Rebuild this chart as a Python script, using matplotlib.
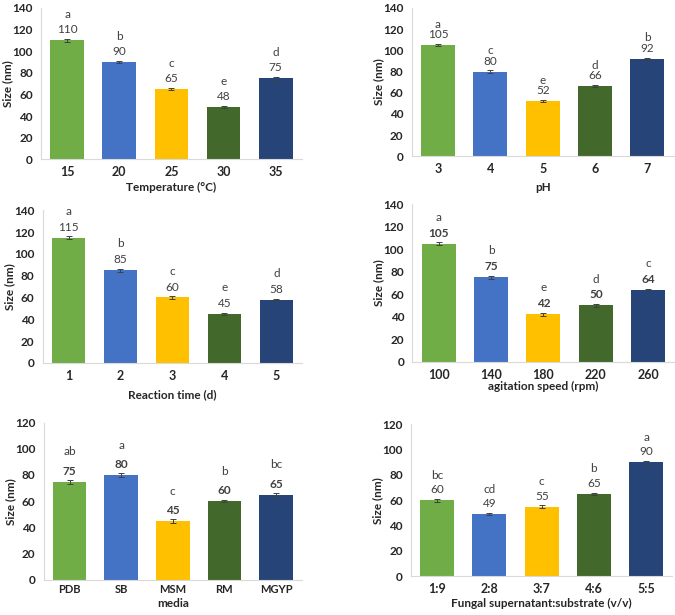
import matplotlib
matplotlib.use("Agg")
import matplotlib.pyplot as plt

plt.rcParams['font.family'] = ['Lato', 'DejaVu Sans']

colors = ['#70AD47', '#4472C4', '#FFC000', '#43682B', '#264478']

# panel data
temp_cats = ['15', '20', '25', '30', '35']
temp_vals = [110, 90, 65, 48, 75]
temp_err = [1.5, 1.0, 1.0, 1.0, 1.5]
temp_letters = ['a', 'b', 'c', 'e', 'd']

ph_cats = ['3', '4', '5', '6', '7']
ph_vals = [105, 80, 52, 66, 92]
ph_err = [1.0, 1.0, 1.0, 1.0, 1.0]
ph_letters = ['a', 'c', 'e', 'd', 'b']

time_cats = ['1', '2', '3', '4', '5']
time_vals = [115, 85, 60, 45, 58]
time_err = [1.0, 1.5, 1.5, 0.8, 1.0]
time_letters = ['a', 'b', 'c', 'e', 'd']

speed_cats = ['100', '140', '180', '220', '260']
speed_vals = [105, 75, 42, 50, 64]
speed_err = [1.2, 1.5, 1.2, 1.2, 1.0]
speed_letters = ['a', 'b', 'e', 'd', 'c']

media_cats = ['PDB', 'SB', 'MSM', 'RM', 'MGYP']
media_vals = [75, 80, 45, 60, 65]
media_err = [1.5, 1.2, 1.5, 0.8, 1.2]
media_letters = ['ab', 'a', 'c', 'b', 'bc']

ratio_cats = ['1:9', '2:8', '3:7', '4:6', '5:5']
ratio_vals = [60, 49, 55, 65, 90]
ratio_err = [1.2, 1.0, 1.0, 1.0, 1.0]
ratio_letters = ['bc', 'cd', 'c', 'b', 'a']

panels = [
    # rect, cats, vals, err, letters, xlabel, ymax, letter offset(pt), label bold, xlabel pad, tick size, x pad
    ([0.061, 0.741, 0.386, 0.246], temp_cats, temp_vals, temp_err, temp_letters,
     'Temperature (°C)', 140, 18.5, False, 3, 9, 5),
    ([0.610, 0.746, 0.388, 0.241], ph_cats, ph_vals, ph_err, ph_letters,
     'pH', 140, 15, False, 5, 9, 5),
    ([0.063, 0.410, 0.385, 0.248], time_cats, time_vals, time_err, time_letters,
     'Reaction time (d)', 140, 19, False, 5, 9, 5),
    ([0.611, 0.412, 0.388, 0.256], speed_cats, speed_vals, speed_err, speed_letters,
     'agitation speed (rpm)', 140, 19, True, 0, 9, 5),
    ([0.065, 0.057, 0.382, 0.256], media_cats, media_vals, media_err, media_letters,
     'media', 120, 21.5, True, 2, 8, 3),
    ([0.609, 0.063, 0.387, 0.247], ratio_cats, ratio_vals, ratio_err, ratio_letters,
     'Fungal supernatant:substrate (v/v)', 120, 18, False, 2, 9, 5),
]

fig = plt.figure(figsize=(6.75, 6.15), dpi=100)

for rect, cats, vals, err, letters, xlabel, ymax, loff, bold, lpad, tsize, xpad in panels:
    ax = fig.add_axes(rect)
    x = list(range(len(cats)))
    ax.bar(x, vals, width=0.65, color=colors, zorder=2)
    ax.errorbar(x, vals, yerr=err, fmt='none', ecolor='#404040',
                elinewidth=0.7, capsize=2, capthick=0.7, zorder=3)
    for xi, v, lt in zip(x, vals, letters):
        ax.annotate(str(v), (xi, v), xytext=(0, 7.5), textcoords='offset points',
                    ha='center', va='center', fontsize=8.5, color='#404040',
                    fontweight='bold' if bold else 'normal')
        ax.annotate(lt, (xi, v), xytext=(0, loff), textcoords='offset points',
                    ha='center', va='center', fontsize=8.5, color='#404040')
    ax.set_xlim(-0.5, len(cats) - 0.5)
    ax.set_ylim(0, ymax)
    ax.set_yticks(range(0, ymax + 1, 20))
    ax.set_xticks(x)
    ax.set_xticklabels(cats)
    ax.tick_params(axis='y', length=0, labelsize=8.5, colors='#262626', pad=6)
    ax.tick_params(axis='x', length=0, labelsize=tsize, colors='#262626', pad=xpad)
    for lab in ax.get_xticklabels() + ax.get_yticklabels():
        lab.set_fontweight('bold')
    for s in ['top', 'right']:
        ax.spines[s].set_visible(False)
    for s in ['left', 'bottom']:
        ax.spines[s].set_color('#d9d9d9')
        ax.spines[s].set_linewidth(0.8)
    ax.set_xlabel(xlabel, fontsize=8.5, fontweight='bold', color='#262626', labelpad=lpad)
    ax.set_ylabel('Size (nm)', fontsize=8.5, fontweight='bold', color='#262626')
    ax.yaxis.set_label_coords(-0.107, 0.5)

fig.savefig('out.png', dpi=100)
